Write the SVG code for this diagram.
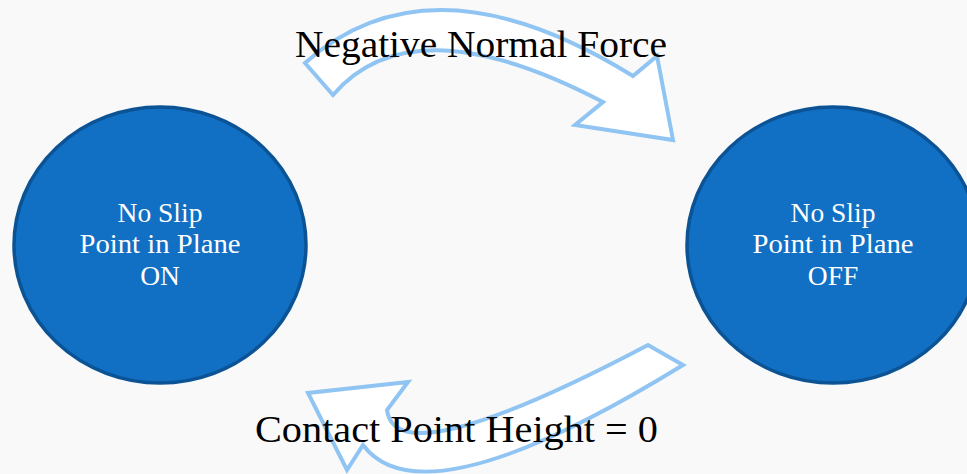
<svg xmlns="http://www.w3.org/2000/svg" width="967" height="474" viewBox="0 0 967 474">
<style>
.node{fill:#1170C4;stroke:#0B5394;stroke-width:3.5}
.nt{font-family:"Liberation Serif",serif;font-size:27.5px;fill:#FFFFFF;text-anchor:middle}
.arr{fill:#FFFFFF;stroke:#90C4F2;stroke-width:4;stroke-linejoin:miter}
.lbl{font-family:"Liberation Serif",serif;font-size:38px;fill:#000000}
</style>
<rect width="967" height="474" fill="#F9F9F9"/>
<g id="node-on">
<ellipse class="node" cx="160" cy="245" rx="146" ry="138"/>
<text class="nt" x="160" y="222">No Slip</text>
<text class="nt" x="160" y="253" textLength="161" lengthAdjust="spacingAndGlyphs">Point in Plane</text>
<text class="nt" x="160" y="285">ON</text>
</g>
<g id="node-off">
<ellipse class="node" cx="833" cy="245" rx="146" ry="138"/>
<text class="nt" x="833" y="222">No Slip</text>
<text class="nt" x="833" y="253" textLength="161" lengthAdjust="spacingAndGlyphs">Point in Plane</text>
<text class="nt" x="833" y="285">OFF</text>
</g>
<g id="connectors">
<path class="arr" d="M305,63 Q431,-49 633,76 L657,56 L673,140 L575,125 L603,102 Q412,2 333,95 Z"/>
<path class="arr" d="M683,365 Q423,525 363,445 L347,470 L308,393 L408,382 L387,410 Q396,478 648,345 Z"/>
</g>
<g id="labels">
<text class="lbl" x="295" y="57" textLength="372" lengthAdjust="spacingAndGlyphs">Negative Normal Force</text>
<text class="lbl" x="255" y="442" textLength="403" lengthAdjust="spacingAndGlyphs">Contact Point Height = 0</text>
</g>
</svg>
